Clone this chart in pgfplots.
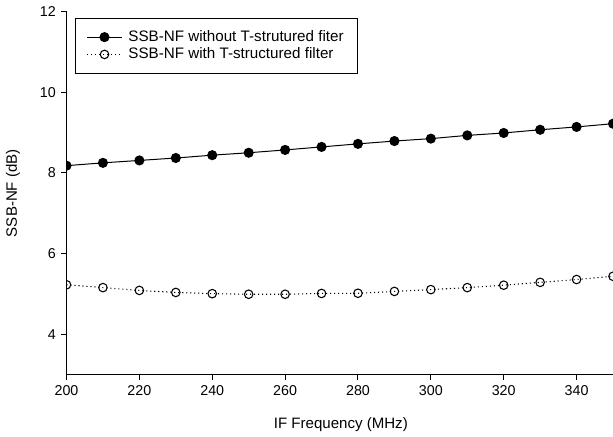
\documentclass[border=0pt]{standalone}
\usepackage{pgfplots}
\pgfplotsset{compat=1.18}
\usepackage{fontspec}
\setmainfont{Liberation Sans}
\begin{document}
\fontsize{11.4}{13.5}\selectfont
\begin{tikzpicture}
\begin{axis}[
  scale only axis,
  width=410pt, height=272.6pt,
  xmin=200, xmax=350, ymin=3, ymax=12,
  xtick={200,220,240,260,280,300,320,340},
  ytick={4,6,8,10,12},
  axis x line*=bottom, axis y line*=left,
  axis line style={line width=0.75pt},
  every tick/.style={black, line width=0.75pt},
  tick align=outside,
  major tick length=4pt,
  /pgf/number format/assume math mode=true,
  ticklabel style={font=\fontsize{10.7}{12.5}\selectfont},
  label style={font=\fontsize{11.3}{13.5}\selectfont},
  xlabel={IF Frequency (MHz)},
  ylabel={SSB-NF (dB)},
  xlabel style={at={(axis description cs:0.502,-0.1375)}, anchor=center},
  ylabel style={at={(axis description cs:-0.098,0.5)}, anchor=center},
  clip=true, clip marker paths=true,
  legend style={at={(rel axis cs:0.0152,0.982)}, anchor=north west,
    draw=black, line width=0.75pt, font=\fontsize{11.4}{13.5}\selectfont,
    inner xsep=8.5pt, inner ysep=7.5pt, row sep=0pt, column sep=2.5pt,
    nodes={inner xsep=2pt, inner ysep=1.5pt}},
  legend cell align=left,
  legend image code/.code={\draw[mark repeat=2,mark phase=2,#1] plot coordinates {(0pt,0pt)(13pt,0pt)(26pt,0pt)};},
]
\addplot[black, line width=0.75pt, mark=*, mark size=3.4pt, mark options={fill=black, solid}]
 coordinates {(200,8.18)(210,8.25)(220,8.31)(230,8.37)(240,8.44)(250,8.50)(260,8.57)(270,8.645)(280,8.72)(290,8.79)(300,8.85)(310,8.93)(320,8.99)(330,9.07)(340,9.14)(350,9.22)};
\addlegendentry{SSB-NF without T-strutured fiter}
\addplot[black, line width=0.8pt, dash pattern=on 0.8pt off 2.2pt, mark=o, mark size=3.2pt, mark options={fill=white, solid}]
 coordinates {(200,5.23)(210,5.16)(220,5.09)(230,5.04)(240,5.01)(250,4.995)(260,4.995)(270,5.015)(280,5.02)(290,5.065)(300,5.11)(310,5.16)(320,5.22)(330,5.29)(340,5.36)(350,5.44)};
\addlegendentry{SSB-NF with T-structured filter}
\end{axis}
\pgfresetboundingbox
\path[use as bounding box] ([xshift=-49.9pt,yshift=-46.5pt]current axis.south west) rectangle ([yshift=8.6pt]current axis.north east);
\end{tikzpicture}
\end{document}
